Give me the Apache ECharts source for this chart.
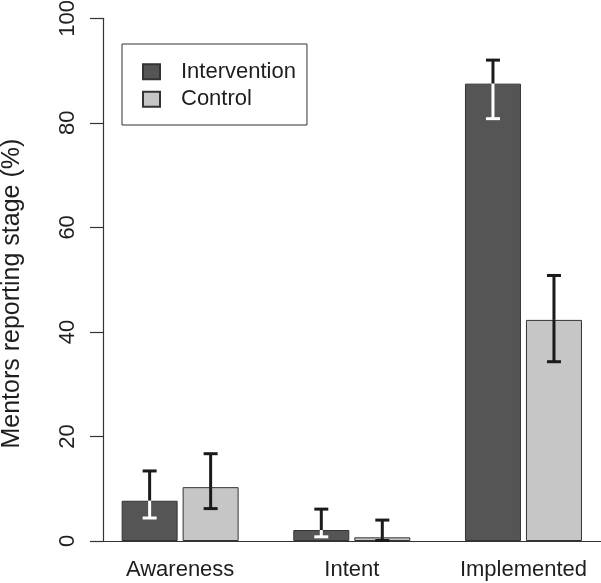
<!DOCTYPE html>
<html>
<head>
<meta charset="utf-8">
<script src="https://cdn.jsdelivr.net/npm/echarts@6/dist/echarts.min.js"></script>
<style>
  html, body { margin: 0; padding: 0; background: #fff; }
  #chart { width: 601px; height: 583px; }
</style>
</head>
<body>
<div id="chart"></div>
<script>
const categories = ['Awareness', 'Intent', 'Implemented']
const yTicks = [0, 20, 40, 60, 80, 100]

const intervention = [7.7, 2.1, 87.5]
const interventionLow = [4.4, 0.8, 80.8]
const interventionHigh = [13.4, 6.1, 92.0]

const control = [10.3, 0.7, 42.3]
const controlLow = [6.2, 0.1, 34.3]
const controlHigh = [16.7, 4.0, 50.8]

const textColor = '#1e1e1e'
const lineColor = '#333333'
const barWidth = 56
const barGapPx = 5
const shift = (barWidth + barGapPx) / 2

// error bar: upper half black, lower half in given colour
function errorSeries (values, lows, highs, dx, lowerColor) {
  return {
    type: 'custom',
    coordinateSystem: 'cartesian2d',
    z: 10,
    silent: true,
    encode: { x: 0, y: [1, 2] },
    data: categories.map((c, i) => [i, lows[i], highs[i], values[i]]),
    renderItem: function (params, api) {
      const i = api.value(0)
      const top = api.coord([i, api.value(2)])
      const mid = api.coord([i, api.value(3)])
      const bot = api.coord([i, api.value(1)])
      const x = top[0] + dx
      const cap = 7
      const seg = (x1, y1, x2, y2, color) => ({
        type: 'line',
        shape: { x1: x1, y1: y1, x2: x2, y2: y2 },
        style: { stroke: color, lineWidth: 3, lineCap: 'butt' }
      })
      return {
        type: 'group',
        children: [
          seg(x, mid[1], x, top[1], '#1a1a1a'),
          seg(x - cap, top[1], x + cap, top[1], '#1a1a1a'),
          seg(x, mid[1], x, bot[1], lowerColor),
          seg(x - cap, bot[1], x + cap, bot[1], lowerColor)
        ]
      }
    }
  }
}

const chart = echarts.init(document.getElementById('chart'))

chart.setOption({
  animation: false,
  backgroundColor: '#ffffff',
  textStyle: { fontFamily: 'Liberation Sans, Arial, sans-serif' },
  grid: {
    left: 94.3,
    right: -8.3,
    top: 18.3,
    bottom: 42,
    containLabel: false,
    outerBoundsMode: 'none'
  },
  legend: {
    data: ['Intervention', 'Control'],
    orient: 'vertical',
    left: 122,
    top: 44,
    padding: [14, 11, 12, 20],
    itemGap: 0,
    itemWidth: 17,
    itemHeight: 15,
    borderColor: lineColor,
    borderWidth: 1,
    icon: 'rect',
    textStyle: {
      fontSize: 22,
      color: textColor,
      lineHeight: 27.5,
      padding: [0, 0, 0, 16]
    }
  },
  xAxis: {
    type: 'category',
    data: categories,
    axisLine: { show: true, lineStyle: { color: lineColor, width: 1.2 } },
    axisTick: { show: false },
    axisLabel: { fontSize: 22, color: textColor, margin: 18 },
    splitLine: { show: false }
  },
  yAxis: {
    type: 'value',
    min: 0,
    max: 100,
    interval: 20,
    offset: -8.7,
    name: 'Mentors reporting stage (%)',
    nameLocation: 'middle',
    nameGap: 78,
    nameTextStyle: { fontSize: 25, color: textColor, padding: [0, 28, 0, 0] },
    axisLine: { show: true, lineStyle: { color: lineColor, width: 1.2 } },
    axisTick: { show: true, length: 13, lineStyle: { color: lineColor, width: 1.2 } },
    axisLabel: {
      fontSize: 22,
      color: textColor,
      rotate: 90,
      margin: 24,
      customValues: yTicks
    },
    splitLine: { show: false }
  },
  series: [
    {
      name: 'Intervention',
      type: 'bar',
      barWidth: barWidth,
      barGap: (barGapPx / barWidth * 100) + '%',
      data: intervention,
      itemStyle: { color: '#555555', borderColor: '#333333', borderWidth: 1 }
    },
    {
      name: 'Control',
      type: 'bar',
      barWidth: barWidth,
      data: control,
      itemStyle: { color: '#c6c6c6', borderColor: '#333333', borderWidth: 1 }
    },
    errorSeries(intervention, interventionLow, interventionHigh, -shift, '#ffffff'),
    errorSeries(control, controlLow, controlHigh, shift, '#1a1a1a')
  ]
})
</script>
</body>
</html>
